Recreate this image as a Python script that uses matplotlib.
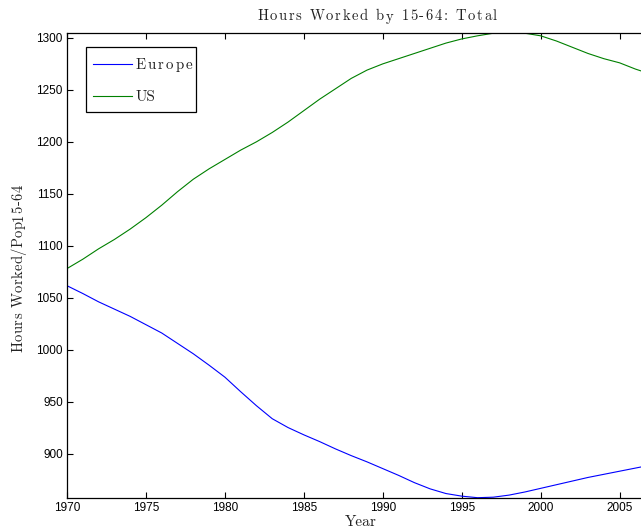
import matplotlib
matplotlib.use("Agg")
import matplotlib.pyplot as plt
from matplotlib.patches import Rectangle
from matplotlib.lines import Line2D
from matplotlib.font_manager import FontProperties
from matplotlib.textpath import TextToPath

years = list(range(1970, 2008))
us = [1078, 1087, 1097, 1106, 1116, 1127, 1139, 1152, 1164, 1174,
      1183, 1192, 1200, 1209, 1219, 1230, 1241, 1251, 1261, 1269,
      1275, 1280, 1285, 1290, 1295, 1299, 1302, 1304.5, 1305, 1304.5,
      1302, 1297, 1291, 1285, 1280, 1276, 1270, 1265]
europe = [1061.5, 1054, 1046, 1039, 1032, 1024, 1016, 1006, 996, 985,
          973.5, 959.5, 946, 933.5, 925, 918, 911.5, 904.5, 898, 892,
          885.5, 879, 872, 866, 861.5, 859, 857.5, 858, 860, 863,
          866.5, 870, 873.5, 877, 880, 883, 886, 889]
series_names = ["Europe", "US"]
xticks = [1970, 1975, 1980, 1985, 1990, 1995, 2000, 2005]
yticks = [900, 950, 1000, 1050, 1100, 1150, 1200, 1250, 1300]
title = "Hours Worked by 15-64: Total"
xlabel = "Year"
ylabel = "Hours Worked/Pop15-64"

W, H = 641, 532
DPI = 100
fig = plt.figure(figsize=(W / DPI, H / DPI), dpi=DPI)
left, right = 67, 651.2
top, bottom = 32.7, 497.7
ax = fig.add_axes([left / W, (H - bottom) / H, (right - left) / W, (bottom - top) / H])

colors = [(0, 0, 1), (0, 0.5, 0)]
ax.plot(years, europe, color=colors[0], lw=0.8)
ax.plot(years, us, color=colors[1], lw=0.8)

ax.set_xlim(1970, 2007)
ax.set_ylim(min(europe), max(us))
ax.set_xticks(xticks)
ax.set_yticks(yticks)
for lab in ax.get_xticklabels() + ax.get_yticklabels():
    lab.set_fontfamily("Liberation Sans")
    lab.set_fontsize(8.5)
ax.tick_params(direction="in", length=4, width=0.8, top=True, right=True, pad=3)
for s in ax.spines.values():
    s.set_linewidth(0.9)

serif = "cmr10"
ttp = TextToPath()
TXT = "#222222"


def wpx(s, fp):
    w, _, _ = ttp.get_text_width_height_descent(s, fp, ismath=False)
    return w * DPI / 72.0


def tracked(s, x0, y0, size, target, rotation=0, color=TXT):
    """Draw text with letter spacing; x0,y0 = start of baseline in pixels."""
    fp = FontProperties(family=serif, size=size)
    pos = [0.0]
    for i in range(1, len(s)):
        if s[i] == " ":
            pos.append(0.0)
        else:
            pos.append(wpx(s[:i + 1], fp) - wpx(s[i], fp))
    natural = wpx(s, fp)
    extra = max((target - natural) / max(len(s) - 1, 1), 0.0)
    for i, ch in enumerate(s):
        if ch == " ":
            continue
        d = pos[i] + extra * i
        if rotation == 0:
            x, y = x0 + d, y0
        else:
            x, y = x0, y0 - d
        fig.text(x / W, 1 - y / H, ch, fontproperties=fp, ha="left",
                 va="baseline", rotation=rotation, rotation_mode="anchor",
                 color=color, zorder=10)


tracked(title, 257, 20.5, 10.5, 240)
fig.text(361 / W, 1 - 526.5 / H, xlabel, fontfamily=serif, fontsize=11,
         ha="center", va="baseline", color=TXT)
tracked(ylabel, 22.5, 352, 10.5, 167, rotation=90)

# legend
fig.patches.append(Rectangle((85.7 / W, 1 - 112 / H), 110 / W, 64.7 / H,
                             transform=fig.transFigure, facecolor="white",
                             edgecolor="black", lw=0.9, zorder=5))
for name, c, yb in zip(series_names, colors, [69.3, 101.3]):
    yl = yb - 5
    fig.lines.append(Line2D([93 / W, 132 / W], [1 - yl / H, 1 - yl / H],
                            transform=fig.transFigure, color=c, lw=0.8, zorder=6))
    if name == "Europe":
        tracked(name, 135.7, yb, 10.8, 56.7)
    else:
        fig.text(135.7 / W, 1 - yb / H, name, fontfamily=serif, fontsize=11,
                 ha="left", va="baseline", color=TXT, zorder=10)

fig.savefig("out.png", dpi=DPI)
